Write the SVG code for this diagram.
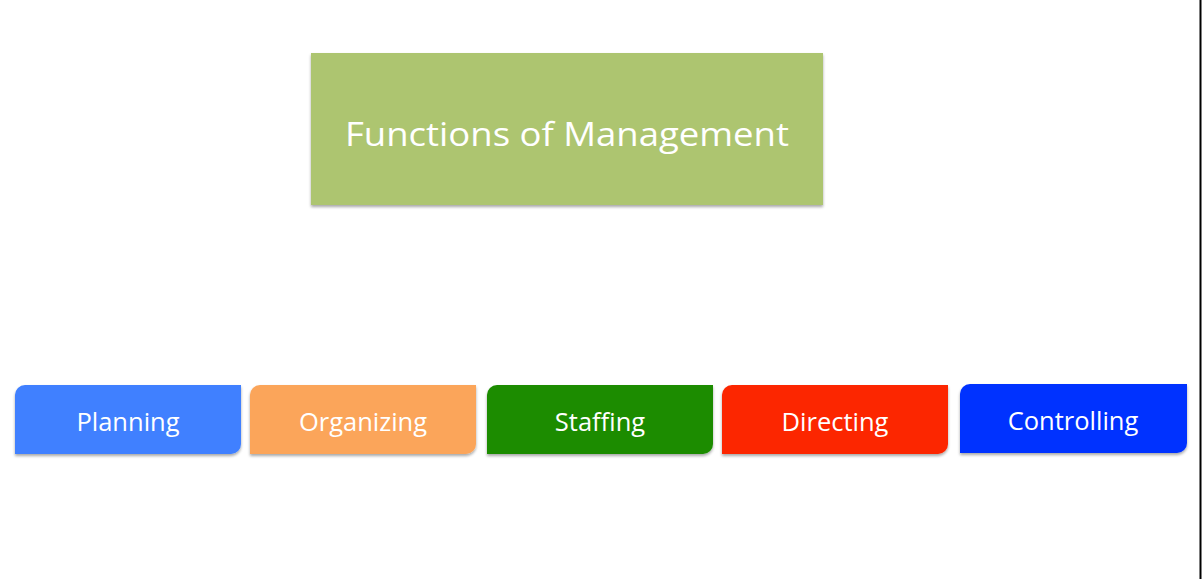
<svg xmlns="http://www.w3.org/2000/svg" width="1202" height="579" viewBox="0 0 1202 579">
<defs>
<filter id="sh" x="-10%" y="-10%" width="120%" height="130%">
<feGaussianBlur in="SourceAlpha" stdDeviation="1.5"/>
<feOffset dx="0" dy="2" result="b"/>
<feComponentTransfer><feFuncA type="linear" slope="0.35"/></feComponentTransfer>
<feMerge><feMergeNode/><feMergeNode in="SourceGraphic"/></feMerge>
</filter>
</defs>
<style>
.lbl{font-family:"Open Sans","Noto Sans",sans-serif;fill:#fff;text-anchor:middle;dominant-baseline:central}
.sm{font-size:25.5px}
.big{font-size:33px}
</style>
<rect width="1202" height="579" fill="#fff"/>
<line x1="1200.5" y1="0" x2="1200.5" y2="579" stroke="#000" stroke-width="2"/>
<g id="title">
<rect x="311" y="53" width="512" height="152" fill="#ADC56F" filter="url(#sh)"/>
<text class="lbl big" x="567" y="133" textLength="444" lengthAdjust="spacingAndGlyphs">Functions of Management</text>
</g>
<g id="planning">
<path d="M25,385 H241 V444 A10,10 0 0 1 231,454 H15 V395 A10,10 0 0 1 25,385 Z" fill="#3F80FF" filter="url(#sh)"/>
<text class="lbl sm" x="128" y="421">Planning</text>
</g>
<g id="organizing">
<path d="M260,385 H476 V444 A10,10 0 0 1 466,454 H250 V395 A10,10 0 0 1 260,385 Z" fill="#FBA55A" filter="url(#sh)"/>
<text class="lbl sm" x="363" y="421">Organizing</text>
</g>
<g id="staffing">
<path d="M497,385 H713 V444 A10,10 0 0 1 703,454 H487 V395 A10,10 0 0 1 497,385 Z" fill="#1C8C00" filter="url(#sh)"/>
<text class="lbl sm" x="600" y="421">Staffing</text>
</g>
<g id="directing">
<path d="M732,385 H948 V444 A10,10 0 0 1 938,454 H722 V395 A10,10 0 0 1 732,385 Z" fill="#FC2600" filter="url(#sh)"/>
<text class="lbl sm" x="835" y="421">Directing</text>
</g>
<g id="controlling">
<path d="M970,384 H1187 V443 A10,10 0 0 1 1177,453 H960 V394 A10,10 0 0 1 970,384 Z" fill="#0433FF" filter="url(#sh)"/>
<text class="lbl sm" x="1073" y="420">Controlling</text>
</g>
<g id="connectors"></g>
</svg>
